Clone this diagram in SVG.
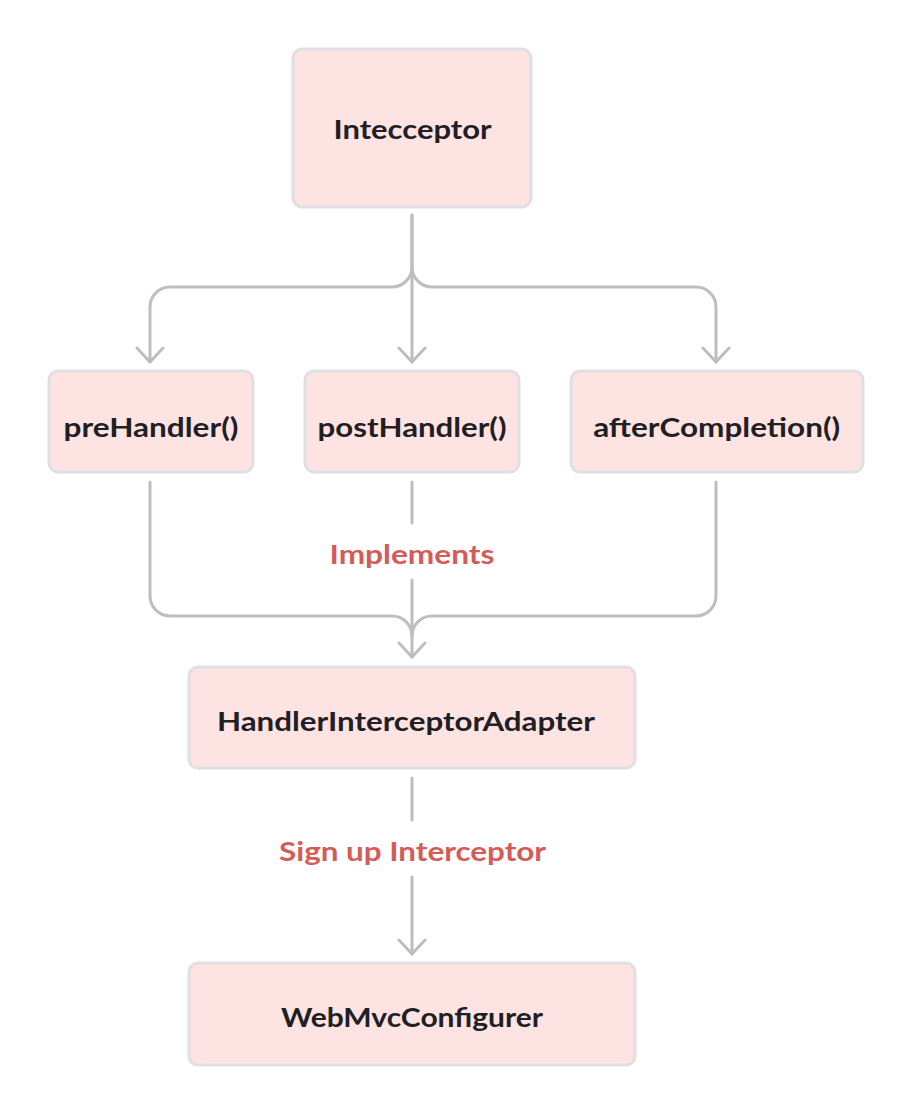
<svg xmlns="http://www.w3.org/2000/svg" width="912" height="1114" viewBox="0 0 912 1114">
  <defs>
    <style>
      .box { fill: #fee3e3; stroke: #dfe0e4; stroke-width: 3; }
      .lbl { font-family: Lato, "Open Sans", "Liberation Sans", sans-serif; font-weight: 700; font-size: 26px; fill: #1f2024; }
      .edge-lbl { font-family: Lato, "Open Sans", "Liberation Sans", sans-serif; font-weight: 700; font-size: 26px; fill: #d45b58; }
      .wire { fill: none; stroke: #bcbec3; stroke-width: 3; stroke-linecap: round; stroke-linejoin: round; }
    </style>
    <marker id="arrow" viewBox="-16 -16 32 32" markerWidth="32" markerHeight="32" refX="0" refY="0" orient="auto" markerUnits="userSpaceOnUse">
      <path d="M -14 -13 L 0 0 L -14 13" fill="none" stroke="#bcbec3" stroke-width="3" stroke-linecap="round" stroke-linejoin="round"/>
    </marker>
  </defs>

  <rect width="912" height="1114" fill="#ffffff"/>

  <!-- connectors -->
  <g id="connectors">
    <!-- Intecceptor fan-out to the three methods -->
    <path class="wire" d="M 412 215 L 412 267 A 20 20 0 0 1 392 287 L 170 287 A 20 20 0 0 0 150 307 L 150 362" marker-end="url(#arrow)"/>
    <path class="wire" d="M 412 215 L 412 362" marker-end="url(#arrow)"/>
    <path class="wire" d="M 412 267 A 20 20 0 0 0 432 287 L 696 287 A 20 20 0 0 1 716 307 L 716 362" marker-end="url(#arrow)"/>

    <!-- methods merge into the adapter -->
    <path class="wire" d="M 150 482 L 150 596 A 20 20 0 0 0 170 616 L 392 616 A 20 20 0 0 1 412 636"/>
    <path class="wire" d="M 716 482 L 716 596 A 20 20 0 0 1 696 616 L 432 616 A 20 20 0 0 0 412 636"/>
    <path class="wire" d="M 412 482 L 412 523"/>
    <path class="wire" d="M 412 580 L 412 657" marker-end="url(#arrow)"/>
    <text class="edge-lbl" x="412" y="564" text-anchor="middle" textLength="165" lengthAdjust="spacingAndGlyphs">Implements</text>

    <!-- adapter registered with the configurer -->
    <path class="wire" d="M 412 778 L 412 820"/>
    <path class="wire" d="M 412 877 L 412 954" marker-end="url(#arrow)"/>
    <text class="edge-lbl" x="412.5" y="861" text-anchor="middle" textLength="267" lengthAdjust="spacingAndGlyphs">Sign up Interceptor</text>
  </g>

  <g id="node-intecceptor">
    <rect class="box" x="293" y="49" width="238" height="158" rx="9"/>
    <text class="lbl" x="412.5" y="139" text-anchor="middle" textLength="158" lengthAdjust="spacingAndGlyphs">Intecceptor</text>
  </g>

  <g id="node-prehandler">
    <rect class="box" x="49" y="371" width="204" height="101" rx="9"/>
    <text class="lbl" x="151" y="437" text-anchor="middle" textLength="175" lengthAdjust="spacingAndGlyphs">preHandler()</text>
  </g>

  <g id="node-posthandler">
    <rect class="box" x="305" y="371" width="214" height="101" rx="9"/>
    <text class="lbl" x="412" y="437" text-anchor="middle" textLength="189" lengthAdjust="spacingAndGlyphs">postHandler()</text>
  </g>

  <g id="node-aftercompletion">
    <rect class="box" x="571" y="371" width="292" height="101" rx="9"/>
    <text class="lbl" x="716.7" y="437" text-anchor="middle" textLength="247" lengthAdjust="spacingAndGlyphs">afterCompletion()</text>
  </g>

  <g id="node-adapter">
    <rect class="box" x="189" y="667" width="446" height="101" rx="9"/>
    <text class="lbl" x="217" y="731" textLength="378" lengthAdjust="spacingAndGlyphs">HandlerInterceptorAdapter</text>
  </g>

  <g id="node-configurer">
    <rect class="box" x="189" y="963" width="446" height="102" rx="9"/>
    <text class="lbl" x="412" y="1027" text-anchor="middle" textLength="262" lengthAdjust="spacingAndGlyphs">WebMvcConfigurer</text>
  </g>
</svg>
